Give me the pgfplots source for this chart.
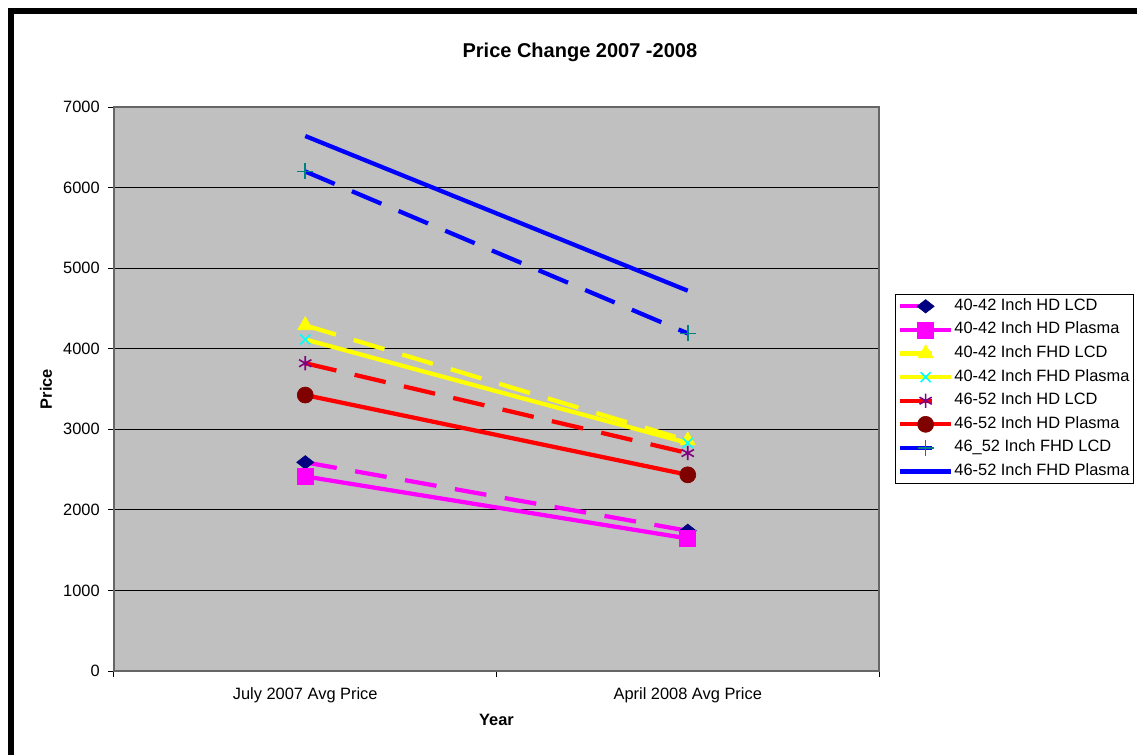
\documentclass[border=0pt]{standalone}
\usepackage{fontspec}
\setmainfont{Liberation Sans}
\usepackage{pgfplots}
\pgfplotsset{compat=1.18}
\definecolor{plotgray}{RGB}{192,192,192}
\definecolor{xlmagenta}{RGB}{255,0,255}
\definecolor{xlyellow}{RGB}{255,255,0}
\definecolor{xlred}{RGB}{255,0,0}
\definecolor{xlblue}{RGB}{0,0,255}
\definecolor{xlnavy}{RGB}{0,0,128}
\definecolor{xlcyan}{RGB}{0,255,255}
\definecolor{xlpurple}{RGB}{128,0,128}
\definecolor{xlmaroon}{RGB}{128,0,0}
\definecolor{xlteal}{RGB}{0,128,128}
\newcommand{\chartfont}{\fontsize{12.3}{14}\selectfont}
\begin{document}
\begin{tikzpicture}
% page = 1137x754 px at 0.75pt per px
\useasboundingbox (0,0) rectangle (852.75pt,565.5pt);
\clip (0,0) rectangle (852.75pt,565.5pt);
\draw[line width=4.2pt] (8.25pt,-20pt) -- (8.25pt,557.25pt) -- (880pt,557.25pt);
\begin{axis}[
    at={(85.5pt,62.25pt)}, anchor=south west,
    scale only axis,
    width=573.75pt, height=423pt,
    xmin=-0.5, xmax=1.5,
    ymin=0, ymax=7000,
    xtick={-0.5,0.5,1.5},
    x tick label as interval,
    xticklabels={July 2007 Avg Price, April 2008 Avg Price},
    ytick={0,1000,...,7000},
    tick pos=left,
    tick align=outside,
    major tick length=4.5pt,
    tick style={black, line width=0.75pt},
    axis line style={draw=black!60, line width=1pt},
    axis background/.style={fill=plotgray},
    ymajorgrids,
    grid style={black, line width=0.75pt},
    /pgf/number format/assume math mode=true,
    scaled y ticks=false,
    yticklabel={\pgfmathprintnumber[fixed,1000 sep={}]{\tick}},
    tick label style={font=\chartfont},
    xticklabel style={anchor=center, yshift=-13.5pt},
    yticklabel style={anchor=east, inner sep=0pt, xshift=-6pt},
    title={Price Change 2007 -2008},
    title style={font=\fontsize{15}{17}\selectfont\bfseries, at={(axis description cs:0.609,1.083)}, anchor=center},
    xlabel={Year},
    xlabel style={font=\chartfont\bfseries, at={(axis description cs:0.5,-0.0869)}, anchor=center},
    ylabel={Price},
    ylabel style={font=\chartfont\bfseries, at={(axis description cs:-0.0889,0.5)}, anchor=center},
    legend style={at={(axis description cs:1.0209,0.6684)}, anchor=north west,
        draw=black, line width=0.75pt, fill=white, font=\chartfont,
        inner xsep=2pt, inner ysep=0pt, row sep=0pt,
        nodes={text height=9pt, text depth=3pt, inner ysep=2.85pt, inner xsep=1pt},
        cells={anchor=west}},
    legend image code/.code={\draw[mark repeat=2,mark phase=2,#1] plot coordinates {(0pt,0pt) (19pt,0pt) (38pt,0pt)};},
    every axis plot/.append style={line width=3.2pt},
]
\addplot[xlmagenta, dash pattern=on 24pt off 14pt, mark=diamond*, mark size=5pt,
    mark options={solid, draw=xlnavy, fill=xlnavy, line width=0.5pt, xscale=1.7}]
    coordinates {(0,2590) (1,1740)};
\addplot[xlmagenta, mark=square*, mark size=6pt,
    mark options={solid, draw=xlmagenta, fill=xlmagenta, line width=0.5pt}]
    coordinates {(0,2415) (1,1645)};
\addplot[xlyellow, dash pattern=on 24pt off 14pt, mark=triangle*, mark size=6.5pt,
    mark options={solid, draw=xlyellow, fill=xlyellow, line width=0.5pt}]
    coordinates {(0,4290) (1,2860)};
\addplot[xlyellow, mark=x, mark size=5.3pt,
    mark options={solid, draw=xlcyan, line width=1.2pt}]
    coordinates {(0,4115) (1,2830)};
\addplot[xlred, dash pattern=on 24pt off 14pt, mark=asterisk, mark size=5.3pt,
    mark options={solid, draw=xlpurple, line width=1.2pt}]
    coordinates {(0,3820) (1,2705)};
\addplot[xlred, mark=*, mark size=6pt,
    mark options={solid, draw=xlmaroon, fill=xlmaroon, line width=0.5pt}]
    coordinates {(0,3425) (1,2435)};
\addplot[xlblue, dash pattern=on 24pt off 14pt, mark=+, mark size=6pt,
    mark options={solid, draw=xlteal, line width=1.2pt}]
    coordinates {(0,6200) (1,4190)};
\addplot[xlblue, no marks]
    coordinates {(0,6640) (1,4720)};
\legend{40-42 Inch HD LCD, 40-42 Inch HD Plasma, 40-42 Inch FHD LCD, 40-42 Inch FHD Plasma,
    46-52 Inch HD LCD, 46-52 Inch HD Plasma, 46\_52 Inch FHD LCD, 46-52 Inch FHD Plasma}
\end{axis}
\end{tikzpicture}
\end{document}
